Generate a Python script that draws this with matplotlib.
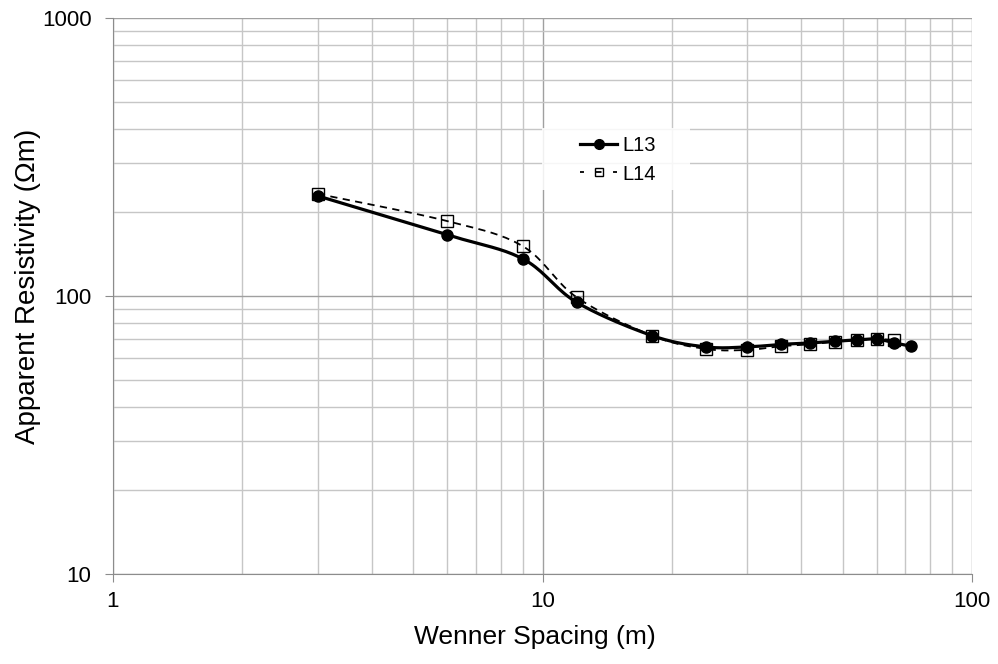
import numpy as np
import matplotlib
matplotlib.use("Agg")
import matplotlib.pyplot as plt
from matplotlib.ticker import LogLocator, FixedLocator, NullFormatter, FixedFormatter
from matplotlib.patches import Rectangle

plt.rcParams['font.family'] = ['Liberation Sans', 'DejaVu Sans']

spacing_l13 = [3, 6, 9, 12, 18, 24, 30, 36, 42, 48, 54, 60, 66, 72]
rho_l13 = [229, 166, 136, 95, 72, 65.6, 65.6, 67, 67.8, 68.8, 69.5, 70, 67.8, 66]
spacing_l14 = [3, 6, 9, 12, 18, 24, 30, 36, 42, 48, 54, 60, 66]
rho_l14 = [233, 186, 151, 99, 72, 64.5, 64, 66, 67, 68.5, 69.5, 70, 69.5]

x_ticks = [1, 10, 100]
x_tick_labels = ["1", "10", "100"]
y_ticks = [10, 100, 1000]
y_tick_labels = ["10", "100", "1000"]

W, H = 998, 664
L, R, T, B = 113, 972, 18, 574


def smooth(xs, ys, n=20, t=0.5):
    # cardinal spline through points in log-log space (Excel-like smoothing)
    lx = np.log10(np.asarray(xs, float))
    ly = np.log10(np.asarray(ys, float))
    P = np.column_stack([lx, ly])
    out = [P[0]]
    for i in range(len(P) - 1):
        p0 = P[i - 1] if i > 0 else P[i]
        p1 = P[i]
        p2 = P[i + 1]
        p3 = P[i + 2] if i + 2 < len(P) else P[i + 1]
        m1 = t * (p2 - p0) / 2
        m2 = t * (p3 - p1) / 2
        c1 = p1 + m1 / 1.5
        c2 = p2 - m2 / 1.5
        s = np.linspace(0, 1, n)[1:, None]
        seg = ((1 - s) ** 3) * p1 + 3 * ((1 - s) ** 2) * s * c1 + 3 * (1 - s) * s ** 2 * c2 + s ** 3 * p2
        out.extend(seg)
    out = np.array(out)
    return 10 ** out[:, 0], 10 ** out[:, 1]


def ax_x(px):
    return (px - L) / (R - L)


def ax_y(py):
    return (B - py) / (B - T)


fig = plt.figure(figsize=(W / 100, H / 100), dpi=100)
ax = fig.add_axes([L / W, (H - B) / H, (R - L) / W, (B - T) / H])
ax.set_xscale('log')
ax.set_yscale('log')
ax.set_xlim(1, 100)
ax.set_ylim(10, 1000)

ax.xaxis.set_major_locator(FixedLocator(x_ticks))
ax.xaxis.set_major_formatter(FixedFormatter(x_tick_labels))
ax.yaxis.set_major_locator(FixedLocator(y_ticks))
ax.yaxis.set_major_formatter(FixedFormatter(y_tick_labels))
ax.xaxis.set_minor_locator(LogLocator(base=10, subs=np.arange(2, 10)))
ax.yaxis.set_minor_locator(LogLocator(base=10, subs=np.arange(2, 10)))
ax.xaxis.set_minor_formatter(NullFormatter())
ax.yaxis.set_minor_formatter(NullFormatter())

ax.grid(True, which='major', color='#a0a0a0', linewidth=1.0)
ax.grid(True, which='minor', color='#c6c6c6', linewidth=1.0)
ax.set_axisbelow(True)
for side in ['top', 'right']:
    ax.spines[side].set_visible(False)
for side in ['left', 'bottom']:
    ax.spines[side].set_color('#8c8c8c')
ax.tick_params(which='major', length=5.5, color='#8c8c8c', labelsize=16)
ax.tick_params(axis='y', which='major', pad=10)
ax.tick_params(axis='x', which='major', pad=7)
ax.tick_params(which='minor', length=0)

sx, sy = smooth(spacing_l13, rho_l13)
ax.plot(sx, sy, color='black', linewidth=2.3, zorder=3)
ax.plot(spacing_l13, rho_l13, linestyle='none', marker='o', markersize=8,
        color='black', zorder=4)
tx, ty = smooth(spacing_l14, rho_l14)
ax.plot(tx, ty, color='black', linewidth=1.3, linestyle=(0, (4, 3)), zorder=3)
ax.plot(spacing_l14, rho_l14, linestyle='none', marker='s', markersize=8,
        markerfacecolor='none', markeredgecolor='black', markeredgewidth=1.0, zorder=4)

# legend background (semi-transparent white, like the reference)
ax.add_patch(Rectangle((ax_x(542), ax_y(190)), ax_x(690) - ax_x(542), ax_y(128) - ax_y(190),
                       transform=ax.transAxes, facecolor='white', edgecolor='none',
                       alpha=0.85, zorder=2))

h1, = ax.plot([], [], color='black', linewidth=2.3, marker='o', markersize=7)
h2, = ax.plot([], [], color='black', linewidth=1.3, linestyle=(0, (2.2, 6.4, 3.3, 6.4)),
              marker='s', markersize=5.5, markerfacecolor='none', markeredgewidth=1.0)
leg = ax.legend([h1, h2], ['L13', 'L14'], loc='center',
                bbox_to_anchor=(ax_x(618), ax_y(160)),
                frameon=False, fontsize=14.5, handlelength=1.85, handletextpad=0.25,
                borderaxespad=0, labelspacing=0.45, borderpad=0)
leg.set_zorder(5)

ax.set_xlabel('Wenner Spacing (m)', fontsize=19, va='center', ha='center')
ax.xaxis.set_label_coords(ax_x(535), ax_y(637))
ax.set_ylabel('Apparent Resistivity (Ωm)', fontsize=20, va='center', ha='center')
ax.yaxis.set_label_coords(ax_x(28), ax_y(286))

fig.savefig('out.png', dpi=100)
